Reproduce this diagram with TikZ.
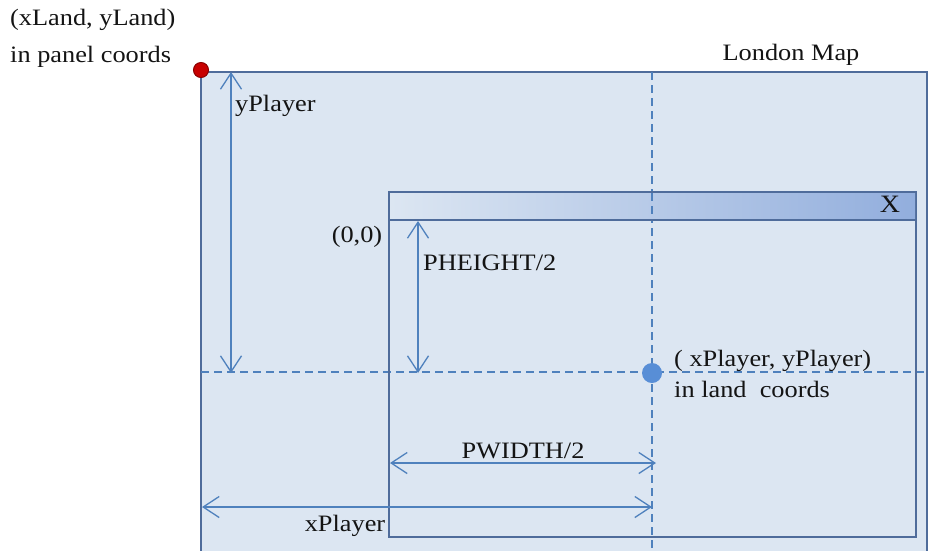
\documentclass[tikz,border=0pt]{standalone}
\usepackage{fontspec}
\setmainfont{Liberation Serif}[FakeStretch=1.12]
\usepackage{tikz}
\usetikzlibrary{arrows.meta, positioning, calc}
\definecolor{landfill}{RGB}{220, 230, 242}
\definecolor{landedge}{RGB}{79, 108, 155}
\definecolor{guideblue}{RGB}{79, 129, 189}
\definecolor{barright}{RGB}{146, 174, 221}
\definecolor{dotred}{RGB}{200, 0, 0}
\definecolor{dotblue}{RGB}{88, 142, 214}
\definecolor{labeltext}{RGB}{20, 20, 20}

\tikzset{
  lbl/.style={font=\fontsize{23.5}{28}\selectfont, text=labeltext, inner sep=0pt, align=left},
  measure/.style={draw=guideblue, line width=1.3pt, {Straight Barb[length=16pt,width=21pt]}-{Straight Barb[length=16pt,width=21pt]}},
  guide/.style={draw=guideblue, line width=1.2pt, dash pattern=on 8pt off 5pt},
  frame/.style={draw=landedge, line width=1.5pt}
}

\begin{document}
\begin{tikzpicture}[x=1pt, y=-1pt]
  \useasboundingbox (0,0) rectangle (928,550);
  \clip (0,0) rectangle (928,550);

  % corners and reference points
  \coordinate (landTL) at (201,72);
  \coordinate (player) at (652,373);
  \coordinate (panelTL) at (389,192);
  \coordinate (panelBR) at (916,537);
  \coordinate (barB) at (389,220);

  % land (the whole map)
  \fill[landfill] (landTL) rectangle (927,560);
  \draw[frame] (landTL) -- (927,72) -- (927,560);
  \draw[frame] (landTL) -- (201,560);

  % player cross-hairs
  \draw[guide] (652,72) -- (652,550);
  \draw[guide] (201,372) -- (928,372);

  % panel with title bar
  \draw[frame] (panelTL) rectangle (panelBR);
  \shade[left color=landfill, right color=barright] ($(panelTL)+(1,1)$) rectangle (915,219);
  \draw[frame] (panelTL) -- (916,192);
  \draw[draw=landedge, line width=2.5pt] (barB) -- (916,220);
  \draw[guide] (652,193) -- (652,219);
  \node[lbl, font=\fontsize{25}{28}\selectfont] (closebox) at (890,204) {X};

  % measures
  \coordinate (yTop) at (231,72);
  \coordinate (yBot) at (231,373);
  \draw[measure] (yTop) -- (yBot);
  \node[lbl, anchor=west] (ylabel) at (235,106) {yPlayer};

  \coordinate (hTop) at (418,221);
  \coordinate (hBot) at (418,373);
  \draw[measure] (hTop) -- (hBot);
  \node[lbl, anchor=west] (hlabel) at (423,263) {PHEIGHT/2};

  \coordinate (wLeft) at (390,463);
  \coordinate (wRight) at (656,463);
  \draw[measure] (wLeft) -- (wRight);
  \node[lbl] (wlabel) at (523,451) {PWIDTH/2};

  \coordinate (xLeft) at (202,507);
  \coordinate (xRight) at (652,507);
  \draw[measure] (xLeft) -- (xRight);
  \node[lbl] (xlabel) at (345,526) {xPlayer};

  % points
  \fill[dotred, draw=dotred!70!black, line width=1pt] (landTL) ++(0,-2) circle (7.5);
  \fill[dotblue] (player) circle (10);

  % text labels
  \node[lbl, anchor=base west, font=\fontsize{23.5}{37}\selectfont] (landpos) at (10,62) {(xLand, yLand)\\in panel coords};
  \node[lbl, anchor=base] (mapname) at (791,60) {London Map};
  \node[lbl] (origin) at (357,237) {(0,0)};
  \node[lbl, anchor=base west, font=\fontsize{23.5}{31}\selectfont] (playerpos) at (674,397) {( xPlayer, yPlayer)\\in land\ \ coords};
\end{tikzpicture}
\end{document}
